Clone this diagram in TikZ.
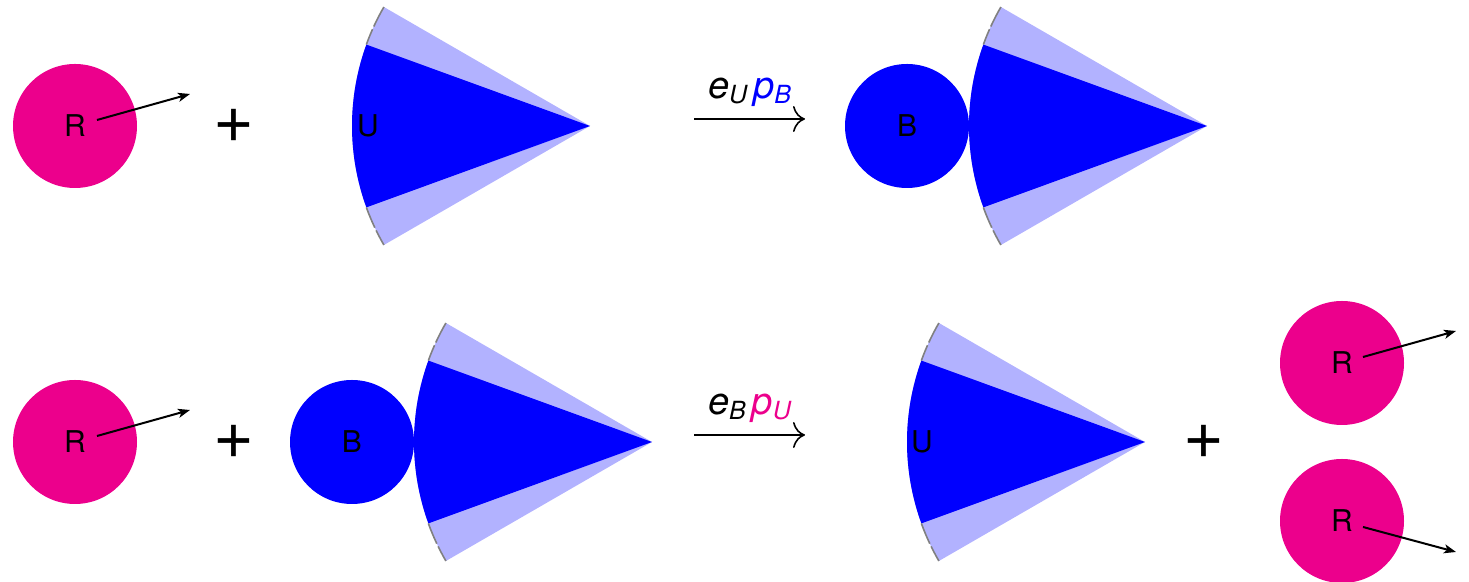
\documentclass[tikz,border=0pt]{standalone}
\usepackage{fontspec}
\setmainfont{TeX Gyre Heros}
\usetikzlibrary{arrows.meta, calc, positioning}
\definecolor{ballpink}{RGB}{236,0,140}
\definecolor{coneblue}{RGB}{0,0,255}
\definecolor{conelight}{RGB}{178,178,255}
\definecolor{edgegray}{RGB}{128,128,128}
\tikzset{
    ball/.style={circle, minimum size=62pt, inner sep=0pt,
        font=\fontsize{15}{15}\selectfont},
    rball/.style={ball, fill=ballpink},
    bball/.style={ball, fill=coneblue},
    conelabel/.style={font=\fontsize{15}{15}\selectfont, inner sep=0pt},
    kick/.style={-{Stealth[length=6pt, width=4.5pt, inset=1.5pt]}, line width=1pt},
    react/.style={-{To[length=6pt, width=13pt]}, line width=0.8pt},
    plus/.style={font=\fontsize{35}{35}\selectfont, inner sep=0pt},
    rate/.style={font=\fontsize{19}{19}\selectfont\itshape, inner sep=0pt, above=6pt},
    arcedge/.style={draw=edgegray, line width=0.8pt, dash pattern=on 11pt off 1.5pt}
}
% small lowered letter
\newcommand{\low}[1]{\raisebox{-2.5pt}{\fontsize{12.5}{12.5}\selectfont #1}}
% e_X p_Y label over a reaction arrow
\newcommand{\rate}[3]{e\low{#1}\hspace{3pt}\textcolor{#3}{p\low{#2}}}
% cone with its tip at coordinate #1
\newcommand{\cone}[1]{%
    \fill[conelight] (#1) -- ++(150:119pt) arc[start angle=150, end angle=210, radius=119pt] -- cycle;
    \fill[coneblue] (#1) -- ++(160:119pt) arc[start angle=160, end angle=200, radius=119pt] -- cycle;
    \draw[arcedge] ($(#1)+(150:119pt)$) arc[start angle=150, end angle=160, radius=119pt];
    \draw[arcedge] ($(#1)+(200:119pt)$) arc[start angle=200, end angle=210, radius=119pt];
}

\begin{document}
\begin{tikzpicture}[x=0.5pt, y=0.5pt]
    \useasboundingbox (0,0) rectangle (1469,582);

    % top row: R + U -> B.U
    \node[rball] (r1) at (75,456) {R};
    \coordinate (r1tail) at (97,462);
    \coordinate (r1tip) at (190,488);
    \draw[kick] (r1tail) -- (r1tip);
    \node[plus] (plus1) at (234,456) {+};

    \coordinate (u1) at (590,456);
    \cone{u1}
    \node[conelabel] (u1lbl) at (368,456) {U};

    \coordinate (a1start) at (694,463);
    \coordinate (a1end) at (805,463);
    \draw[react] (a1start) -- node[rate] (k1) {\rate{U}{B}{coneblue}} (a1end);

    \coordinate (u2) at (1207,456);
    \cone{u2}
    \node[bball] (b1) at (907,456) {B};

    % bottom row: R + B.U -> U + 2R
    \node[rball] (r2) at (75,140) {R};
    \coordinate (r2tail) at (97,146);
    \coordinate (r2tip) at (190,172);
    \draw[kick] (r2tail) -- (r2tip);
    \node[plus] (plus2) at (234,140) {+};

    \coordinate (u3) at (652,140);
    \cone{u3}
    \node[bball] (b2) at (352,140) {B};

    \coordinate (a2start) at (694,147);
    \coordinate (a2end) at (805,147);
    \draw[react] (a2start) -- node[rate] (k2) {\rate{B}{U}{ballpink}} (a2end);

    \coordinate (u4) at (1145,140);
    \cone{u4}
    \node[conelabel] (u4lbl) at (922,140) {U};
    \node[plus] (plus3) at (1204,140) {+};

    \node[rball] (r3) at (1342,219) {R};
    \coordinate (r3tail) at (1363,225);
    \coordinate (r3tip) at (1456,251);
    \draw[kick] (r3tail) -- (r3tip);

    \node[rball] (r4) at (1342,61) {R};
    \coordinate (r4tail) at (1363,55);
    \coordinate (r4tip) at (1456,30);
    \draw[kick] (r4tail) -- (r4tip);

\end{tikzpicture}
\end{document}
